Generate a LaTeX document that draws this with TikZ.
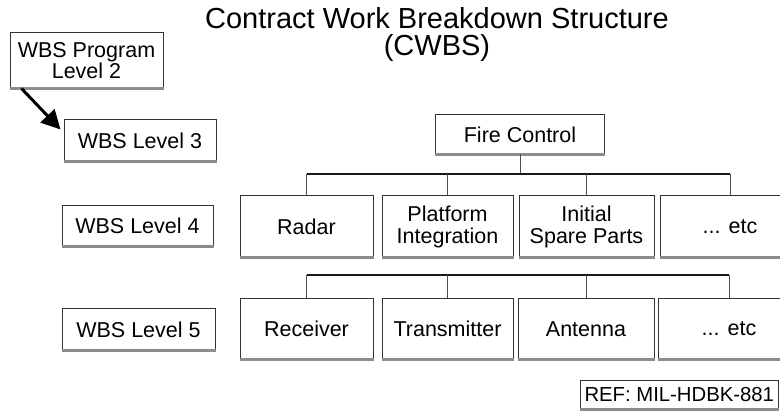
\documentclass[tikz,border=0pt]{standalone}
\usepackage{fontspec}
\setmainfont{Liberation Sans}
\usetikzlibrary{arrows.meta}

\begin{document}
\begin{tikzpicture}[x=1pt,y=-1pt,
  wbs box/.style={draw=black!80,line width=1pt,fill=white,inner sep=0pt,align=center,font=\fontsize{21.5}{22}\selectfont},
  level box/.style={wbs box,minimum height=41pt},
  item box/.style={wbs box,minimum height=61pt},
  shadow line/.style={draw=black!45,line width=3pt},
  bus/.style={draw=black!90,line width=1.6pt},
  drop/.style={draw=black!70,line width=0.8pt}]
  \useasboundingbox (0,0) rectangle (780,411);
  \clip (0,0) rectangle (780,411);

  \node[font=\fontsize{29}{27}\selectfont,align=center] (title) at (437,34) {Contract Work Breakdown Structure\\(CWBS)};

  % level labels on the left
  \node[wbs box,minimum width=153pt,minimum height=55pt,font=\fontsize{21.5}{20}\selectfont] (prog) at (86.5,60.5) {WBS Program\\Level 2};
  \node[level box,minimum width=152pt] (lvl3) at (140,140.5) {WBS Level 3};
  \node[level box,minimum width=151pt,minimum height=40pt] (lvl4) at (137.5,226) {WBS Level 4};
  \node[level box,minimum width=153pt] (lvl5) at (138.5,329.5) {WBS Level 5};

  % tree
  \node[wbs box,minimum width=169pt,minimum height=39pt] (fc) at (520,134.5) {Fire Control};

  \node[item box,minimum width=133pt] (radar) at (306.5,226.5) {Radar};
  \node[item box,minimum width=131pt] (plat) at (447.5,226.5) {Platform\\Integration};
  \node[item box,minimum width=135pt] (init) at (586.5,226.5) {Initial\\Spare Parts};
  \node[item box,minimum width=140pt] (etc4) at (730,226.5) {... etc};

  \node[item box,minimum width=133pt,minimum height=60pt] (recv) at (306.5,329) {Receiver};
  \node[item box,minimum width=131pt,minimum height=60pt] (trans) at (447.5,329) {Transmitter};
  \node[item box,minimum width=136pt,minimum height=60pt] (ant) at (586,329) {Antenna};
  \node[item box,minimum width=142pt,minimum height=60pt] (etc5) at (729,329) {... etc};

  \node[wbs box,anchor=west,minimum height=28pt,inner xsep=4pt,font=\fontsize{20.3}{22}\selectfont] (ref) at (580,395) {REF: MIL-HDBK-881};

  \foreach \n in {prog,lvl3,lvl4,lvl5,fc,radar,plat,init,etc4,recv,trans,ant,etc5,ref}
    \draw[shadow line] (\n.south west) -- (\n.south east);

  \coordinate (bus4) at (520,174);
  \coordinate (bus5) at (520,275);
  \draw[drop] (fc.south) -- (bus4);
  \draw[bus] (radar.north |- bus4) -- (etc4.north |- bus4);
  \draw[bus] (recv.north |- bus5) -- (etc5.north |- bus5);
  \foreach \n in {radar,plat,init,etc4}
    \draw[drop] (\n.north |- bus4) -- (\n.north);
  \foreach \n in {recv,trans,ant,etc5}
    \draw[drop] (\n.north |- bus5) -- (\n.north);

  \draw[-{Triangle[length=19pt,width=19pt]},line width=3pt] ([xshift=12pt]prog.south west) -- ([xshift=-3pt,yshift=-10pt]lvl3.north west);
\end{tikzpicture}
\end{document}
